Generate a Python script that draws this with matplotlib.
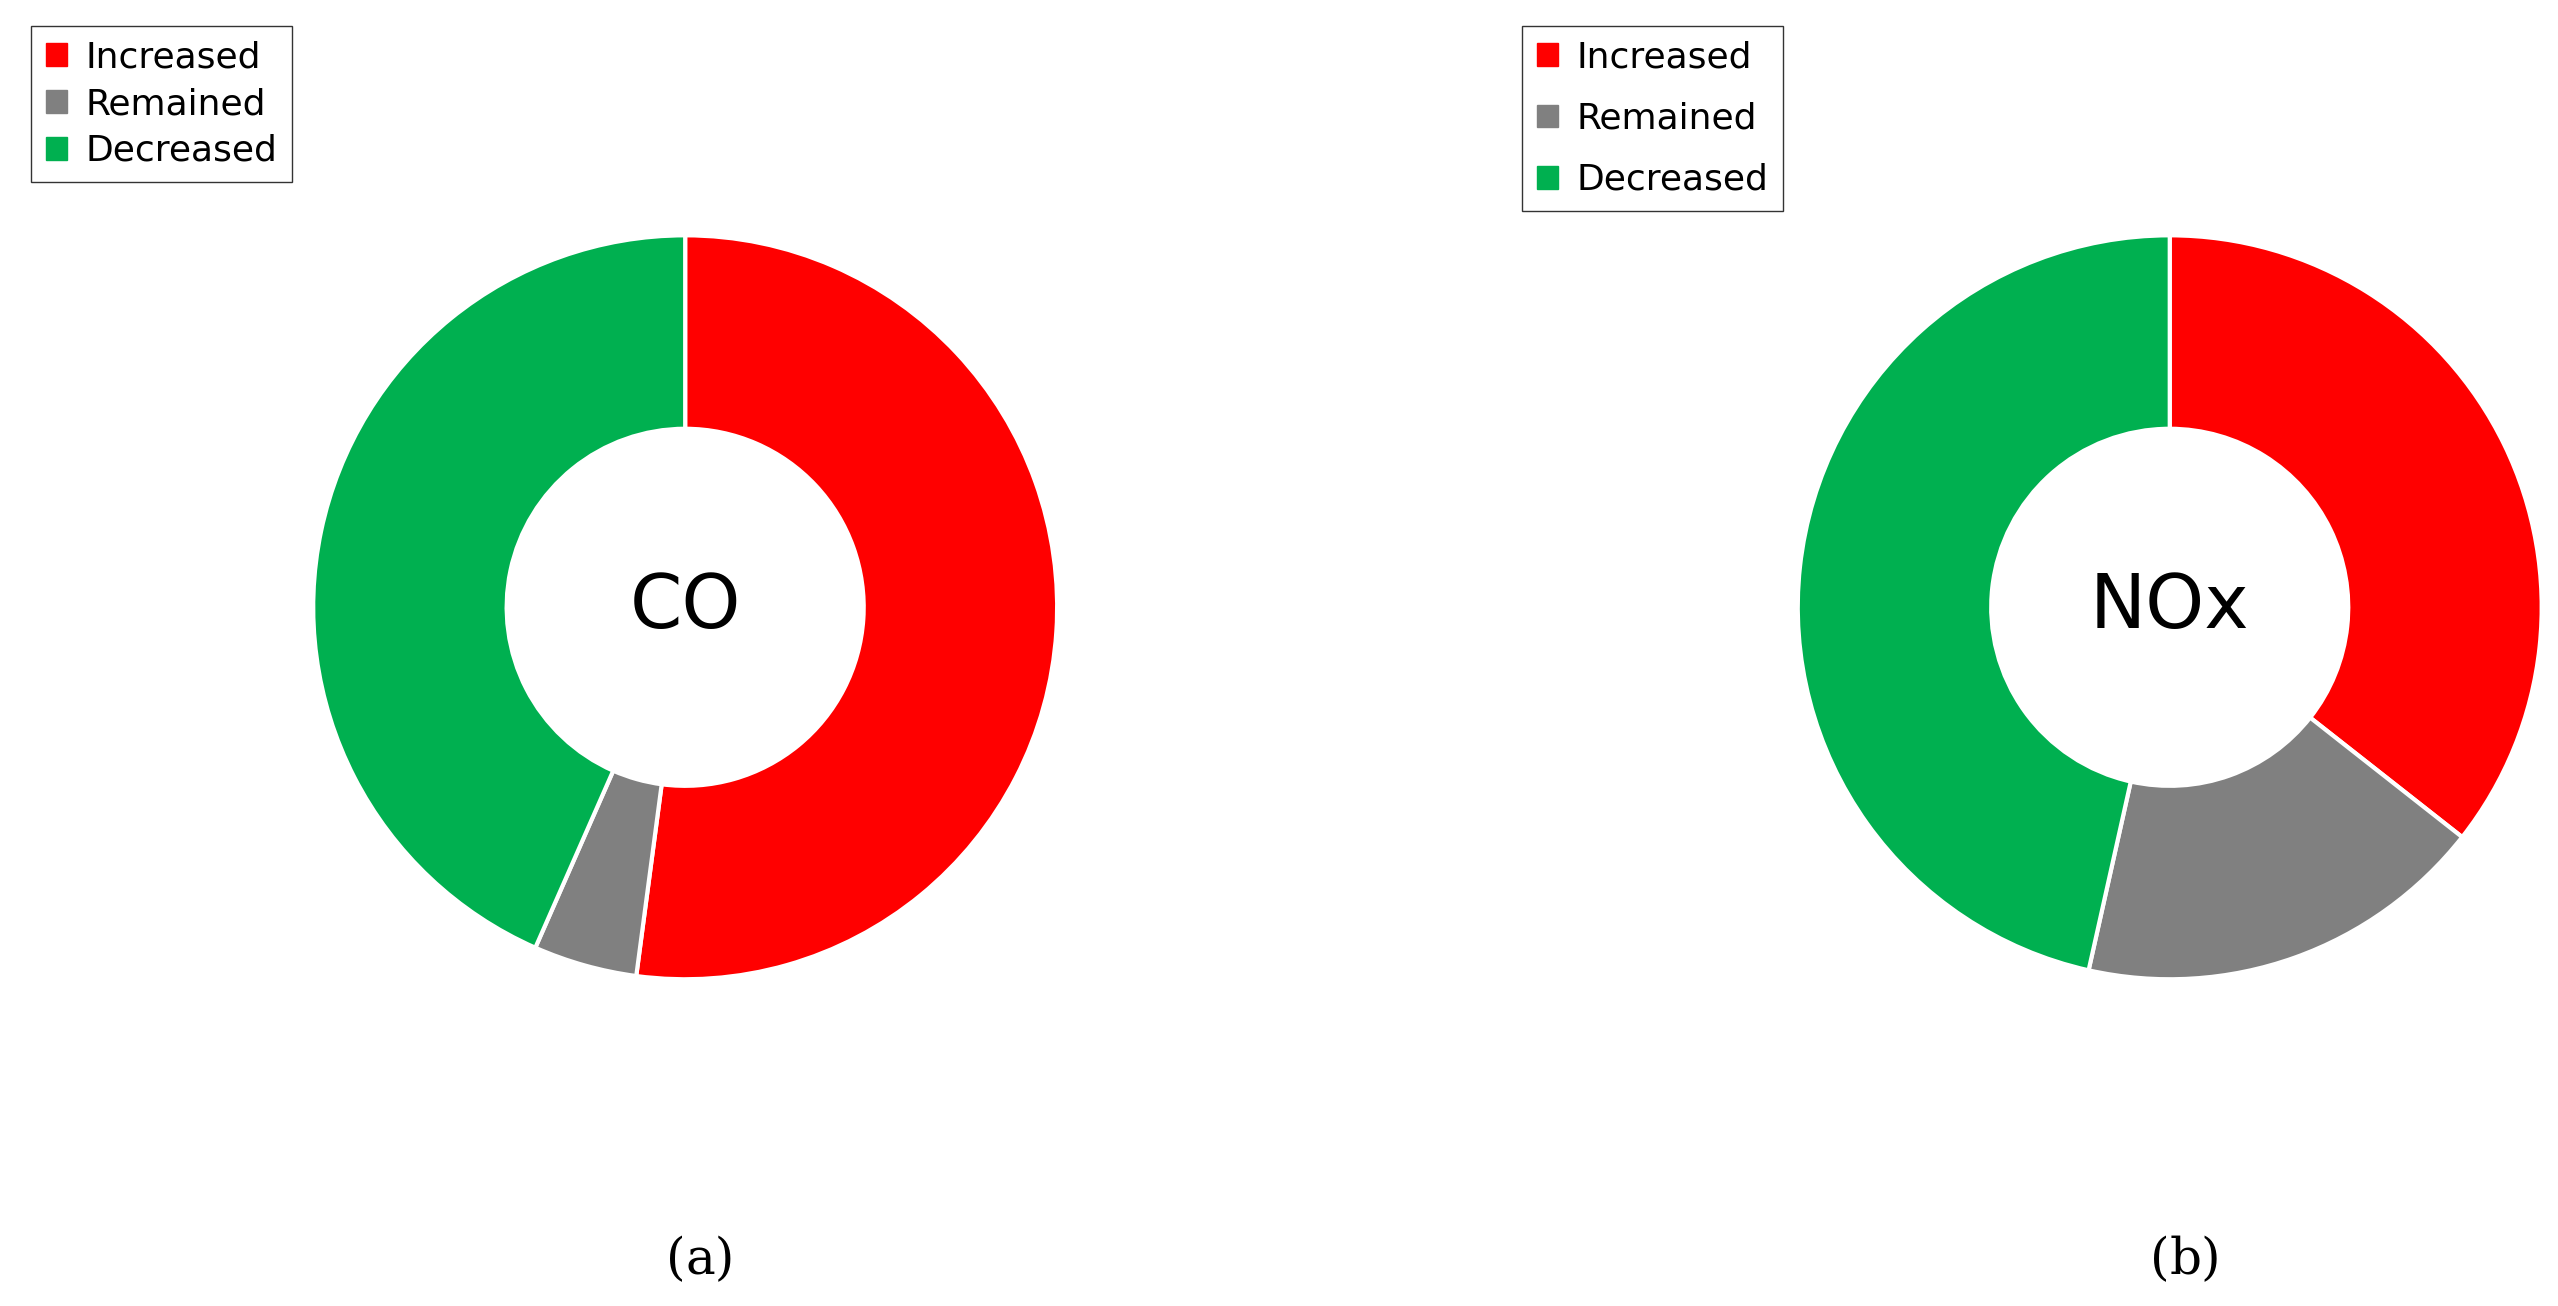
import matplotlib
matplotlib.use("Agg")
import matplotlib.pyplot as plt
from matplotlib.patches import Patch

categories = ["Increased", "Remained", "Decreased"]
colors = ["#ff0000", "#808080", "#00b050"]
co_values = [52.1, 4.5, 43.4]
nox_values = [35.6, 17.9, 46.5]
names = ["CO", "NOx"]
panel_labels = ["a", "b"]

W, H = 2558, 1306
fig = plt.figure(figsize=(W / 100, H / 100), dpi=100)

# centres in figure fraction (x, y from bottom), radius in pixels
centres = [(420 / 1568, 1 - 372 / 800), (1330 / 1568, 1 - 372 / 800)]
r_px = 228 * W / 1568
legend_pos = [(8 / 1568, 1 - 5 / 800), (922 / 1568, 1 - 5 / 800)]
label_x = [420 / 1568, 1330 / 1568]

for i, vals in enumerate([co_values, nox_values]):
    cx, cy = centres[i]
    rw, rh = r_px / W, r_px / H
    ax = fig.add_axes([cx - rw, cy - rh, 2 * rw, 2 * rh])
    ax.pie(vals, colors=colors, startangle=90, counterclock=False, radius=1,
           wedgeprops=dict(width=0.52, edgecolor="white", linewidth=3))
    ax.set_xlim(-1, 1)
    ax.set_ylim(-1, 1)
    ax.set_aspect("equal")
    ax.text(0, 0, names[i], ha="center", va="center", fontsize=54)

    handles = [Patch(facecolor=c, edgecolor=c) for c in colors]
    fig.legend(handles, categories, loc="upper left", bbox_to_anchor=legend_pos[i],
               fontsize=26, frameon=True, fancybox=False, edgecolor="black",
               handlelength=0.6, handleheight=0.6, handletextpad=0.5,
               labelspacing=0.35 if i == 0 else 0.75, borderpad=0.4)
    fig.text(label_x[i], 1 - 772 / 800, "(", ha="right", va="center",
             fontsize=36, family="DejaVu Serif")
    fig.text(label_x[i], 1 - 772 / 800, panel_labels[i] + ")", ha="left",
             va="center", fontsize=36, family="DejaVu Serif")

fig.savefig("out.png", dpi=100, facecolor="white")
